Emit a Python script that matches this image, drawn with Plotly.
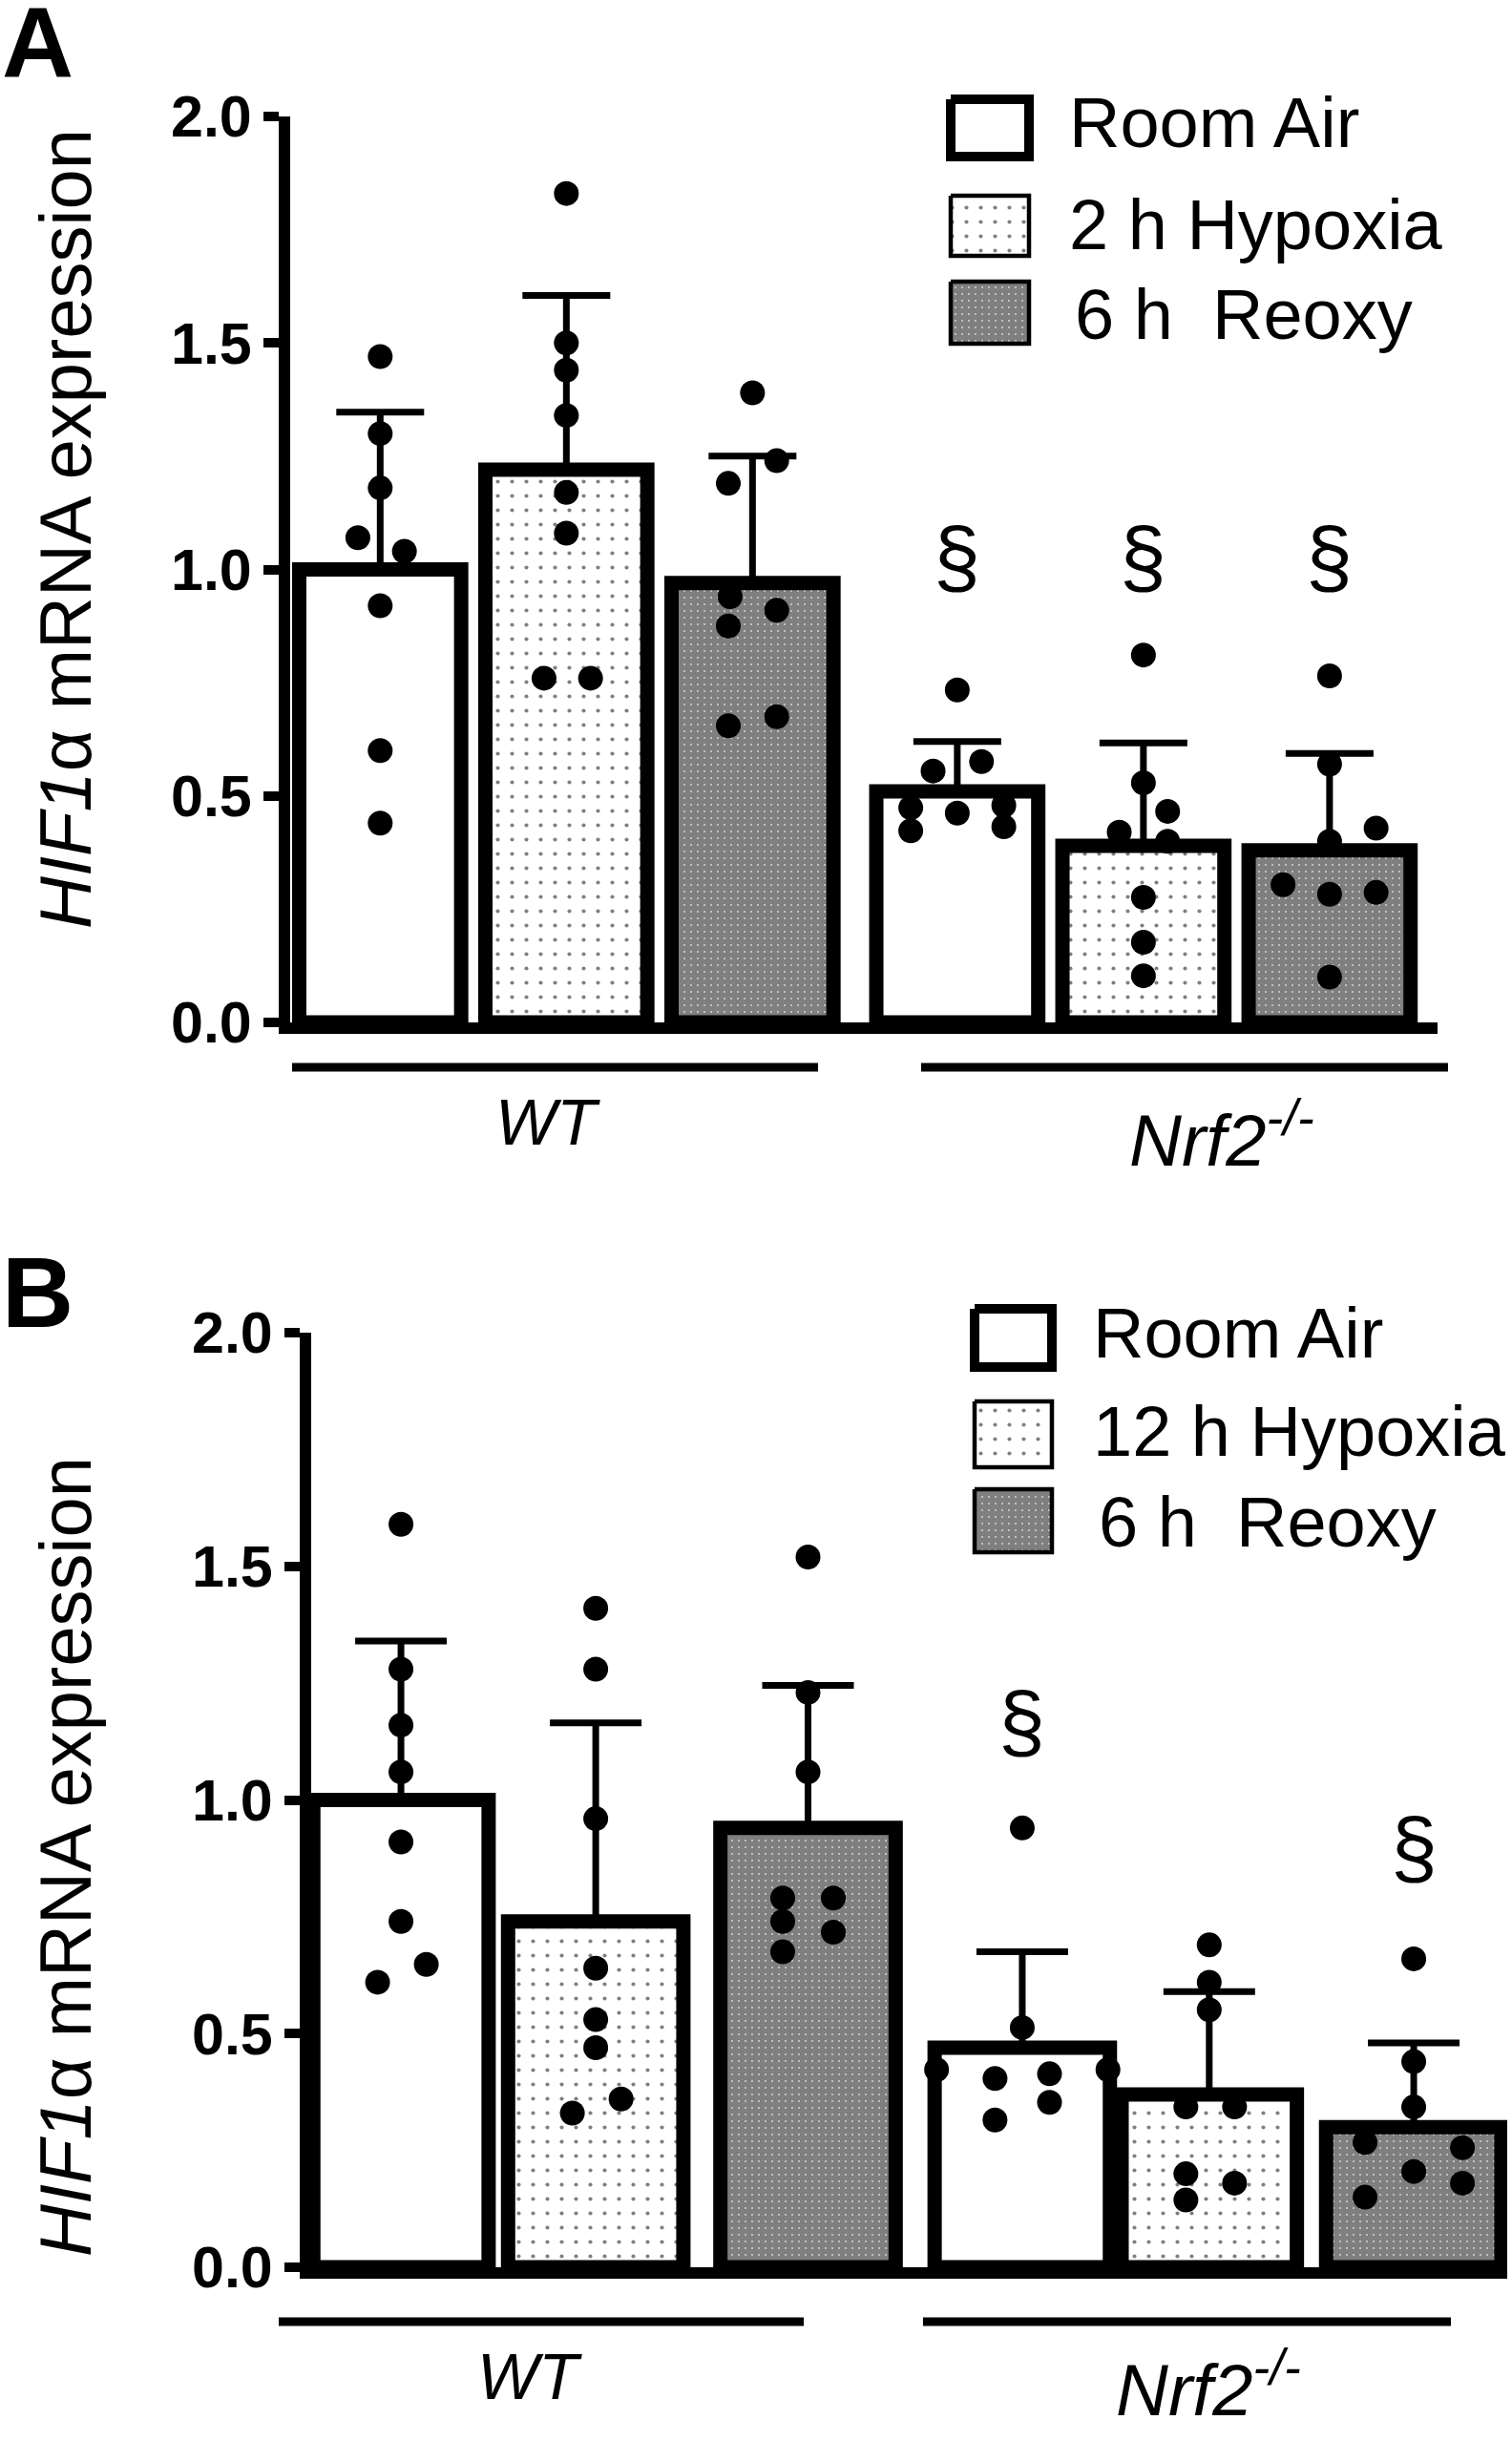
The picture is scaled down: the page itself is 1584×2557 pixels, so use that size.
import plotly.graph_objects as go

W, H = 1584, 2557

# ---------------- data ----------------
genotypes = ["WT", "Nrf2-/-"]
conditions_A = ["Room Air", "2 h Hypoxia", "6 h  Reoxy"]
conditions_B = ["Room Air", "12 h Hypoxia", "6 h  Reoxy"]
y_ticks = [0.0, 0.5, 1.0, 1.5, 2.0]

# order: WT-RA, WT-Hyp, WT-Reoxy, Nrf2-RA, Nrf2-Hyp, Nrf2-Reoxy
A_mean = [1.00, 1.22, 0.97, 0.51, 0.39, 0.38]
A_sd = [0.347, 0.385, 0.28, 0.11, 0.227, 0.214]
A_points = [
    [1.47, 1.30, 1.18, 1.07, 1.04, 0.92, 0.60, 0.44],
    [1.83, 1.50, 1.44, 1.34, 1.17, 1.08, 0.76, 0.76],
    [1.39, 1.24, 1.19, 0.94, 0.91, 0.875, 0.675, 0.655],
    [0.734, 0.576, 0.555, 0.479, 0.474, 0.462, 0.432, 0.423],
    [0.811, 0.529, 0.466, 0.42, 0.40, 0.276, 0.177, 0.103],
    [0.765, 0.570, 0.429, 0.40, 0.304, 0.283, 0.287, 0.10],
]
A_jitter = [
    [0, 0, 0, -0.12, 0.13, 0, 0, 0],
    [0, 0, 0, 0, 0, 0, -0.12, 0.13],
    [0, 0.13, -0.13, -0.12, 0.13, -0.13, 0.13, -0.13],
    [0, 0.13, -0.13, 0.25, -0.25, 0, 0.25, -0.25],
    [0, 0, 0.13, -0.13, 0.13, 0, 0, 0],
    [0, 0, 0.25, 0, -0.25, 0, 0.25, 0],
]
A_sig = ["", "", "", "§", "§", "§"]
A_sig_y = [0, 0, 0, 1.03, 1.03, 1.03]

B_mean = [1.00, 0.74, 0.94, 0.47, 0.37, 0.30]
B_sd = [0.34, 0.425, 0.305, 0.205, 0.22, 0.18]
B_points = [
    [1.59, 1.28, 1.16, 1.06, 0.91, 0.74, 0.648, 0.61],
    [1.41, 1.28, 0.96, 0.64, 0.53, 0.47, 0.33, 0.36],
    [1.52, 1.23, 1.06, 0.79, 0.79, 0.74, 0.717, 0.675],
    [0.94, 0.513, 0.423, 0.423, 0.404, 0.414, 0.353, 0.315],
    [0.69, 0.61, 0.551, 0.343, 0.343, 0.20, 0.18, 0.144],
    [0.66, 0.44, 0.343, 0.267, 0.205, 0.256, 0.18, 0.15],
]
B_jitter = [
    [0, 0, 0, 0, 0, 0, 0.13, -0.12],
    [0, 0, 0, 0, 0, 0, -0.12, 0.13],
    [0, 0, 0, -0.13, 0.13, -0.13, 0.13, -0.13],
    [0, 0, -0.44, 0.44, -0.14, 0.14, 0.14, -0.14],
    [0, 0, 0, -0.12, 0.13, -0.12, 0.13, -0.12],
    [0, 0, 0, -0.25, 0, 0.25, 0.25, -0.25],
]
B_sig = ["", "", "", "§", "", "§"]
B_sig_y = [0, 0, 0, 1.17, 0, 0.90]

# ---------------- layout constants ----------------
A_xpos = [0, 1, 2, 3.1, 4.1, 5.1]
B_xpos = [0, 1, 2.09, 3.19, 4.15, 5.2]

def px(x):
    return x / W

def py(y):
    return 1 - y / H

patterns = [
    dict(shape="", fgcolor="black", bgcolor="white"),
    dict(shape=".", fgcolor="black", bgcolor="white", size=15, solidity=0.06),
    dict(shape=".", fgcolor="black", bgcolor="white", size=7, solidity=0.9),
]

FONT = "Liberation Sans"
fig = go.Figure()

# legend swatches (pixel overlay axis, drawn first so it sits underneath)
def swatch(x0, y0, x1, y1, pat, lw):
    fig.add_trace(go.Scatter(
        x=[x0, x1, x1, x0, x0], y=[y0, y0, y1, y1, y0], mode="lines",
        fill="toself", fillcolor="white", fillpattern=pat,
        line=dict(color="black", width=lw), xaxis="x3", yaxis="y3",
        showlegend=False, hoverinfo="skip"))

legA = [(104, 164, 10), (205, 268, 4.5), (295, 360, 4.5)]
legA_text_y = [128, 236, 330]
legB = [(1371, 1432, 10), (1468, 1537, 4.5), (1560, 1626, 4.5)]
legB_text_y = [1396, 1499, 1594]
for c in range(3):
    y0, y1, lw = legA[c]
    swatch(996, y0, 1078, y1, patterns[c], lw)
    y0, y1, lw = legB[c]
    swatch(1021, y0, 1102, y1, patterns[c], lw)


def add_panel(means, sds, points, jitter, xpos, xa, ya, bar_w, cap_w):
    for c in range(3):
        idx = [c, c + 3]
        fig.add_trace(go.Bar(
            x=[xpos[i] for i in idx], y=[means[i] for i in idx],
            width=bar_w, xaxis=xa, yaxis=ya, showlegend=False,
            marker=dict(color="white", line=dict(color="black", width=15),
                        pattern=patterns[c]),
            error_y=dict(type="data", symmetric=False,
                         array=[sds[i] for i in idx], arrayminus=[0, 0],
                         color="black", thickness=7, width=cap_w),
        ))
    for i in range(6):
        fig.add_trace(go.Scatter(
            x=[xpos[i] + j for j in jitter[i]], y=points[i],
            mode="markers", xaxis=xa, yaxis=ya, showlegend=False,
            marker=dict(color="black", size=26, line=dict(width=0)),
        ))

add_panel(A_mean, A_sd, A_points, A_jitter, A_xpos, "x", "y", 0.87, 46)
add_panel(B_mean, B_sd, B_points, B_jitter, B_xpos, "x2", "y2", 0.9, 48)

# significance marks
for xpos, sig, sy, xa, ya in [(A_xpos, A_sig, A_sig_y, "x", "y"),
                              (B_xpos, B_sig, B_sig_y, "x2", "y2")]:
    for i in range(6):
        if sig[i]:
            fig.add_annotation(x=xpos[i], y=sy[i], xref=xa, yref=ya, text=sig[i],
                               showarrow=False, font=dict(family=FONT, size=88, color="black"),
                               yanchor="middle", xanchor="center")

legA_x = [1118, 1118, 1124]
legB_x = [1143, 1143, 1149]
for c in range(3):
    fig.add_annotation(x=px(legA_x[c]), y=py(legA_text_y[c]), xref="paper", yref="paper",
                       text=conditions_A[c], showarrow=False, xanchor="left", yanchor="middle",
                       font=dict(family=FONT, size=74, color="black"))
    fig.add_annotation(x=px(legB_x[c]), y=py(legB_text_y[c]), xref="paper", yref="paper",
                       text=conditions_B[c], showarrow=False, xanchor="left", yanchor="middle",
                       font=dict(family=FONT, size=74, color="black"))

# group lines & labels
for (x0, x1, y) in [(306, 857, 1118), (965, 1517, 1118), (292, 842, 2432), (967, 1520, 2432)]:
    fig.add_shape(type="line", xref="paper", yref="paper", x0=px(x0), x1=px(x1),
                  y0=py(y), y1=py(y), line=dict(color="black", width=9))

glabels = ["<i>WT</i>", "<i>Nrf2<sup>-/-</sup></i>"]
for (x, y, t, s) in [(574, 1175, glabels[0], 68), (1280, 1189, glabels[1], 76),
                     (555, 2489, glabels[0], 68), (1266, 2498, glabels[1], 76)]:
    fig.add_annotation(x=px(x), y=py(y), xref="paper", yref="paper", text=t,
                       showarrow=False, xanchor="center", yanchor="middle",
                       font=dict(family=FONT, size=s, color="black"))

# y titles
for yc in [554, 1945]:
    fig.add_annotation(x=px(68), y=py(yc), xref="paper", yref="paper",
                       text="<i>HIF1</i>α mRNA expression", textangle=-90,
                       showarrow=False, xanchor="center", yanchor="middle",
                       font=dict(family=FONT, size=76, color="black"))

# panel letters
for (x, y, t) in [(0, 44, "A"), (0, 1354, "B")]:
    fig.add_annotation(x=px(x), y=py(y), xref="paper", yref="paper", text="<b>%s</b>" % t,
                       showarrow=False, xanchor="left", yanchor="middle",
                       font=dict(family=FONT, size=104, color="black"))

yax = dict(range=[0, 2.0], tickvals=y_ticks, tickformat=".1f", showline=True,
           linewidth=12, linecolor="black", ticks="outside", ticklen=16, tickwidth=10,
           tickcolor="black", showgrid=False, zeroline=False,
           tickfont=dict(family=FONT, size=61, color="black", weight="bold"))
xax = dict(showline=True, linewidth=12, linecolor="black", ticks="", showticklabels=False,
           showgrid=False, zeroline=False)

fig.update_layout(
    width=W, height=H, margin=dict(l=0, r=0, t=0, b=0, pad=0, autoexpand=False),
    paper_bgcolor="white", plot_bgcolor="rgba(0,0,0,0)", barmode="overlay",
    xaxis=dict(xax, domain=[px(304), px(1506)], range=[-0.4836, 5.680], anchor="y"),
    yaxis=dict(yax, domain=[py(1071), py(122)], anchor="x"),
    xaxis2=dict(xax, domain=[px(326), px(1579)], range=[-0.461, 5.68], anchor="y2"),
    yaxis2=dict(yax, domain=[py(2375), py(1396)], anchor="x2"),
    xaxis3=dict(domain=[0, 1], range=[0, W], visible=False, anchor="y3", fixedrange=True),
    yaxis3=dict(domain=[0, 1], range=[H, 0], visible=False, anchor="x3", fixedrange=True),
)

fig.write_html("out.html", config={"displayModeBar": False},
               post_script="document.body.style.margin='0px';")
